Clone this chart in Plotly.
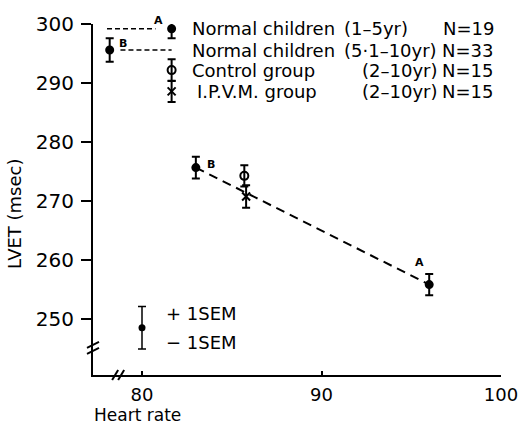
import plotly.graph_objects as go

# ---------------- data ----------------
group_names = ["Normal children", "Normal children", "Control group", "I.P.V.M. group"]
age_ranges = ["(1–5yr)", "(5·1–10yr)", "(2–10yr)", "(2–10yr)"]
n_labels = ["N=19", "N=33", "N=15", "N=15"]
point_labels = ["A", "B", "", ""]

heart_rate = [96.0, 83.0, 85.7, 85.8]
lvet = [255.9, 275.7, 274.3, 270.8]
sem = [1.8, 1.85, 1.8, 1.9]

# key markers drawn next to the group descriptions
key_heart_rate = [81.65, 78.2, 81.65, 81.65]
key_lvet = [299.2, 295.6, 292.2, 288.6]
key_sem = [1.6, 2.0, 1.85, 1.8]

# dashed regression line through the group means
fit_heart_rate = [83.0, 96.0]
fit_lvet = [275.7, 255.9]

# dashed guide lines in the key
guide_a_heart_rate = [78.05, 80.75]
guide_a_lvet = [299.2, 299.2]
guide_b_heart_rate = [78.8, 81.65]
guide_b_lvet = [295.6, 295.6]

# +/- 1 SEM explanation marker
sem_key_heart_rate = [80.0]
sem_key_lvet = [248.6]
sem_key_err = [3.6]

x_ticks = [80, 90, 100]
y_ticks = [250, 260, 270, 280, 290, 300]

# ---------------- layout geometry ----------------
W, H = 530, 427
ML, MR, MT, MB = 93, 21, 21, 52
PW, PH = W - ML - MR, H - MT - MB
FONT = "DejaVu Sans"


def px(xp):
    return (xp - ML) / PW


def py(yp):
    return (H - MB - yp) / PH


symbols = ["circle", "circle", "circle-open", "x-thin-open"]
sizes = [7, 7, 8, 8]

fig = go.Figure()

# regression line
fig.add_trace(go.Scatter(x=fit_heart_rate, y=fit_lvet, mode="lines",
                         line=dict(color="black", width=2, dash="9px,6px"),
                         hoverinfo="skip", showlegend=False))
# key guide lines
for gx, gy in [(guide_a_heart_rate, guide_a_lvet), (guide_b_heart_rate, guide_b_lvet)]:
    fig.add_trace(go.Scatter(x=gx, y=gy, mode="lines",
                             line=dict(color="black", width=1.5, dash="5px,3px"),
                             hoverinfo="skip", showlegend=False))

for i in range(4):
    fig.add_trace(go.Scatter(
        x=[heart_rate[i], key_heart_rate[i]],
        y=[lvet[i], key_lvet[i]],
        mode="markers",
        marker=dict(symbol=symbols[i], size=sizes[i], color="black",
                    line=dict(color="black", width=2)),
        error_y=dict(type="data", array=[sem[i], key_sem[i]], color="black",
                     thickness=2, width=4),
        showlegend=False, name=group_names[i]))

fig.add_trace(go.Scatter(
    x=sem_key_heart_rate, y=sem_key_lvet, mode="markers",
    marker=dict(symbol="circle", size=7, color="black"),
    error_y=dict(type="data", array=sem_key_err, color="black", thickness=1.5, width=4),
    showlegend=False))

ann = []
# group descriptions
name_x = [192, 192, 192, 196.5]
range_x = [346.5, 346.5, 365, 365]
n_x = [448, 446.5, 446.5, 446.5]
for i in range(4):
    for xpos, txt in [(name_x[i], group_names[i]), (range_x[i], age_ranges[i]), (n_x[i], n_labels[i])]:
        ann.append(dict(x=px(xpos), xref="paper", y=key_lvet[i], yref="y",
                        text=txt, showarrow=False, xanchor="left", yanchor="middle",
                        font=dict(family=FONT, size=18, color="black")))

# A / B labels beside the points and key markers
label_shift_pts = [(-10, 22), (15, 3)]
label_shift_key = [(-13, 8), (13, 7)]
for i in range(2):
    ann.append(dict(x=heart_rate[i], y=lvet[i], text="<b>%s</b>" % point_labels[i],
                    showarrow=False, xshift=label_shift_pts[i][0], yshift=label_shift_pts[i][1],
                    font=dict(family=FONT, size=11, color="black")))
    ann.append(dict(x=key_heart_rate[i], y=key_lvet[i], text="<b>%s</b>" % point_labels[i],
                    showarrow=False, xshift=label_shift_key[i][0], yshift=label_shift_key[i][1],
                    font=dict(family=FONT, size=11, color="black")))

# SEM key text
ann.append(dict(x=px(165), xref="paper", y=py(313), yref="paper",
                text="+ 1SEM", showarrow=False, xanchor="left", yanchor="middle",
                font=dict(family=FONT, size=18, color="black")))
ann.append(dict(x=px(165), xref="paper", y=py(342), yref="paper",
                text="− 1SEM", showarrow=False, xanchor="left", yanchor="middle",
                font=dict(family=FONT, size=18, color="black")))

# axis titles
ann.append(dict(x=px(13), xref="paper", y=py(213), yref="paper", text="LVET (msec)",
                textangle=-90, showarrow=False, xanchor="center", yanchor="middle",
                font=dict(family=FONT, size=18, color="black")))
ann.append(dict(x=px(92), xref="paper", y=py(427), yref="paper", text="Heart rate",
                showarrow=False, xanchor="left", yanchor="bottom",
                font=dict(family=FONT, size=17, color="black")))

# axis break marks
shapes = []
for dy in (-3, 3):
    shapes.append(dict(type="line", xref="paper", yref="y", xsizemode="pixel", ysizemode="pixel",
                       xanchor=0, yanchor=245.2, x0=-6, x1=6, y0=dy - 3, y1=dy + 3,
                       line=dict(color="black", width=2)))
for dx in (-3, 3):
    shapes.append(dict(type="line", xref="x", yref="paper", xsizemode="pixel", ysizemode="pixel",
                       xanchor=78.67, yanchor=0, x0=dx - 3, x1=dx + 3, y0=-5, y1=5,
                       line=dict(color="black", width=2)))

fig.update_layout(
    width=W, height=H,
    margin=dict(l=ML, r=MR, t=MT, b=MB),
    paper_bgcolor="white", plot_bgcolor="white",
    annotations=ann, shapes=shapes,
    font=dict(family=FONT, color="black"),
    xaxis=dict(range=[77.27, 100], tickvals=x_ticks, showgrid=False, zeroline=False,
               showline=True, linecolor="black", linewidth=2,
               ticks="inside", ticklen=4, tickwidth=2, tickcolor="black",
               tickfont=dict(family=FONT, size=18, color="black"), ticklabelstandoff=2),
    yaxis=dict(range=[240.6, 300], tickvals=y_ticks, showgrid=False, zeroline=False,
               showline=True, linecolor="black", linewidth=2,
               ticks="outside", ticklen=10, tickwidth=2, tickcolor="black",
               tickfont=dict(family=FONT, size=20, color="black"), ticklabelstandoff=3),
)

fig.write_html("out.html")
